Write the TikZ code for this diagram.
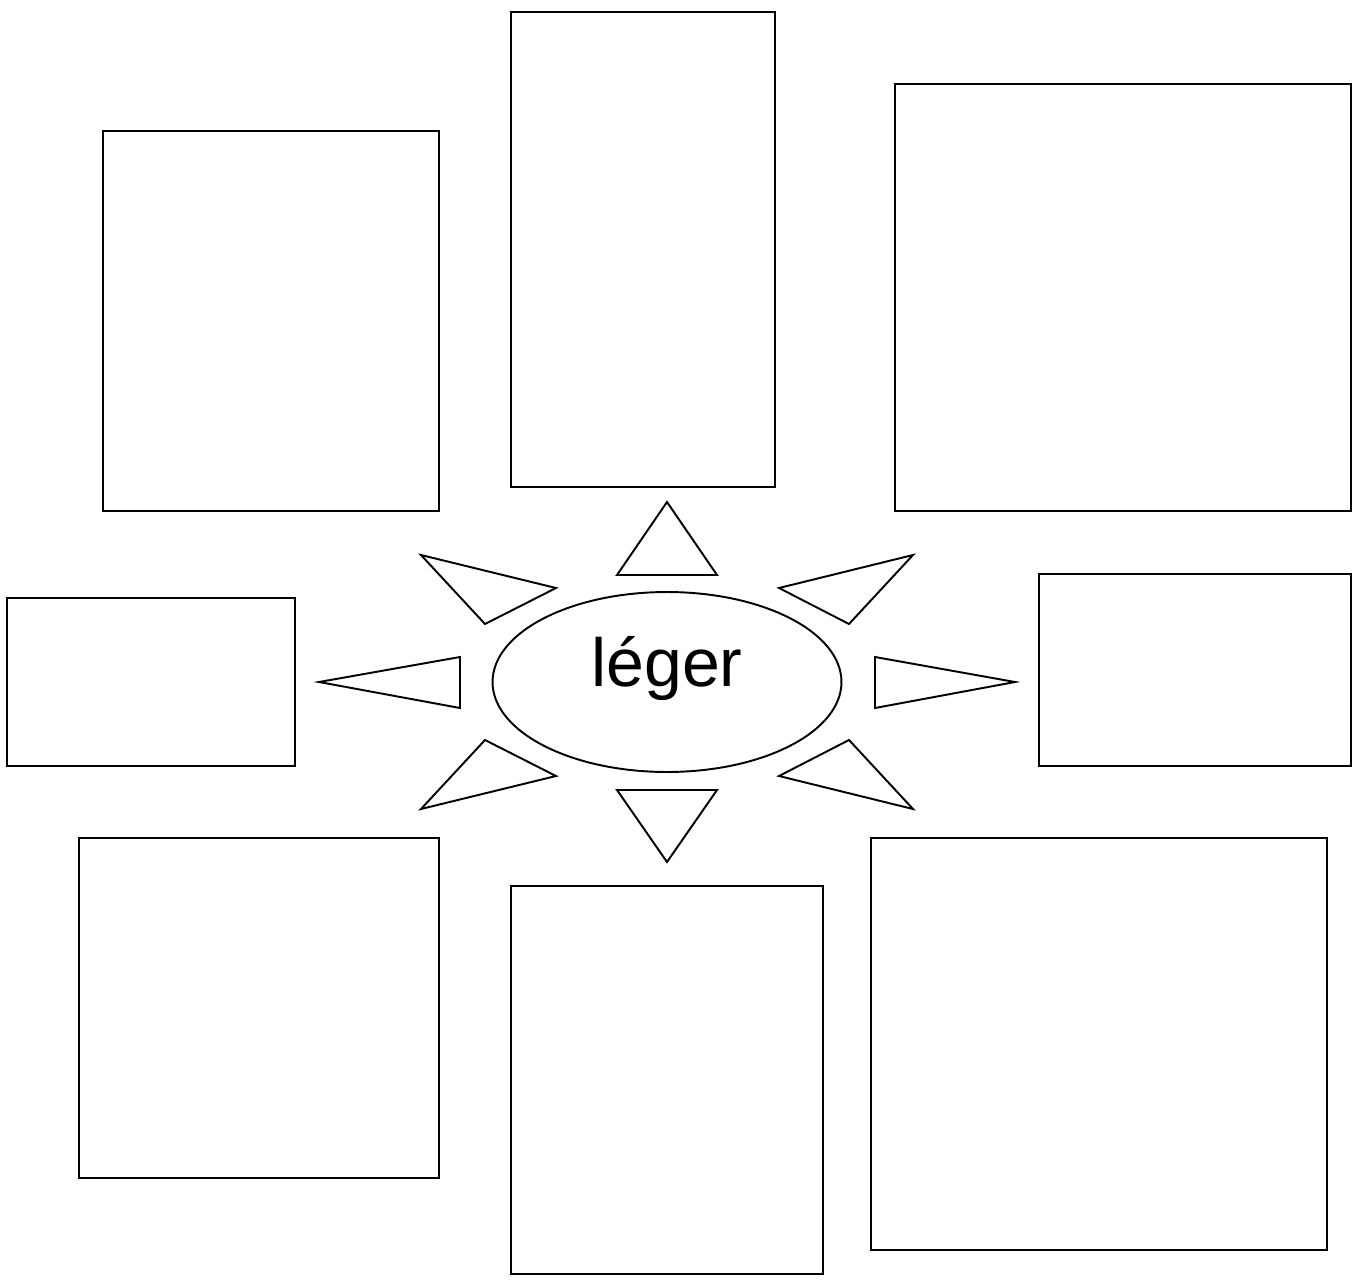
\documentclass[tikz,border=0pt]{standalone}
\usepackage{fontspec}
\setmainfont{Liberation Sans}
\usetikzlibrary{shapes.geometric}

\begin{document}
\begin{tikzpicture}[
    x=0.02cm, y=-0.02cm,
    line width=1.1pt,
    box/.style={rectangle, draw, inner sep=0pt},
    centre/.style={ellipse, draw, inner sep=0pt, minimum width=6.98cm, minimum height=3.6cm,
      text height=0.16cm, text depth=0pt, font=\fontsize{38.7}{40}\selectfont},
    ray/.style={draw, line join=miter}
]
\useasboundingbox (0,0) rectangle (1359,1281);

% centre word
\node[centre] (leger) at (667,682) {léger};

% boxes round it
\node[box, minimum width=6.72cm, minimum height=7.6cm] (boxNW) at (271,321) {};
\node[box, minimum width=5.28cm, minimum height=9.5cm] (boxN) at (643,249.5) {};
\node[box, minimum width=9.12cm, minimum height=8.54cm] (boxNE) at (1123,297.5) {};
\node[box, minimum width=5.76cm, minimum height=3.36cm] (boxW) at (151,682) {};
\node[box, minimum width=6.24cm, minimum height=3.84cm] (boxE) at (1195,670) {};
\node[box, minimum width=7.2cm, minimum height=6.8cm] (boxSW) at (259,1008) {};
\node[box, minimum width=6.24cm, minimum height=7.76cm] (boxS) at (667,1080) {};
\node[box, minimum width=9.12cm, minimum height=8.24cm] (boxSE) at (1099,1044) {};

% rays of the sun
\draw[ray] (667,502) -- (617,575) -- (717,575) -- cycle;
\draw[ray] (617,790) -- (717,790) -- (667,862) -- cycle;
\draw[ray] (319,682) -- (460,657) -- (460,708) -- cycle;
\draw[ray] (1015,682) -- (875,657) -- (875,708) -- cycle;
\draw[ray] (421,555) -- (556,588) -- (485,624) -- cycle;
\draw[ray] (913,555) -- (779,588) -- (849,624) -- cycle;
\draw[ray] (485,740) -- (556,776) -- (421,809) -- cycle;
\draw[ray] (849,740) -- (779,776) -- (913,809) -- cycle;

\end{tikzpicture}
\end{document}
